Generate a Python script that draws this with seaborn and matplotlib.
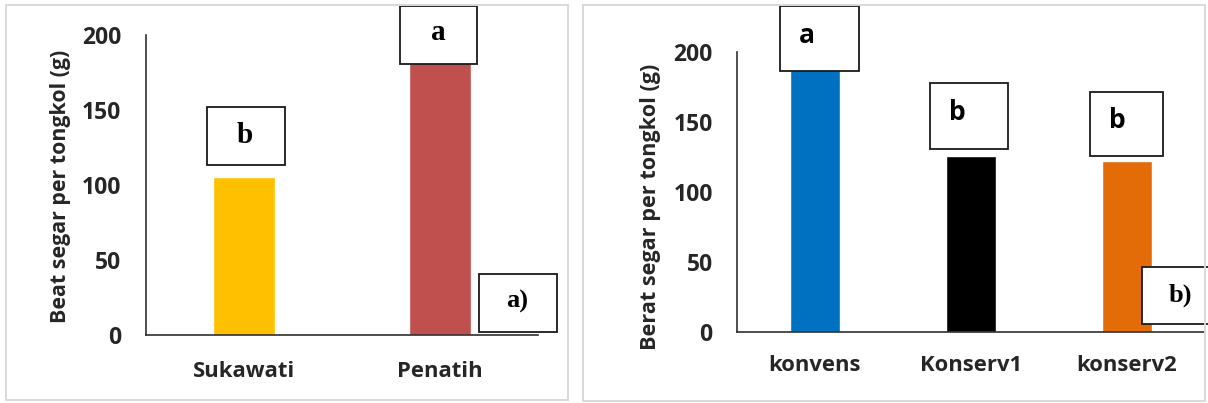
import matplotlib
matplotlib.use("Agg")
import matplotlib.pyplot as plt
from matplotlib.patches import Rectangle
import seaborn as sns

# Fresh cob weight per location
sites = ["Sukawati", "Penatih"]
site_weight = [105, 185]
site_letters = ["b", "a"]
site_colors = ["#FFC000", "#C0504D"]

# Fresh cob weight per cultivation system
systems = ["konvens", "Konserv1", "konserv2"]
system_weight = [190, 126, 122]
system_letters = ["a", "b", "b"]
system_colors = ["#0070C0", "#000000", "#E36C09"]

y_ticks = [0, 50, 100, 150, 200]

sns.set_style("white")
plt.rcParams["font.family"] = ["Open Sans", "DejaVu Sans"]
plt.rcParams["font.weight"] = "bold"

W, H = 1208, 403
fig = plt.figure(figsize=(W / 100, H / 100), dpi=100)


def fig_rect(x0, y0, x1, y1):
    """Rectangle in figure pixels measured from the top-left corner."""
    return [x0 / W, 1 - y1 / H, (x1 - x0) / W, (y1 - y0) / H]


# light grey frames around the two panels
for x0, y0, x1, y1 in [(6, 5, 568, 400), (583, 5, 1205, 401)]:
    l, b, w, h = fig_rect(x0, y0, x1, y1)
    fig.patches.append(Rectangle((l, b), w, h, transform=fig.transFigure,
                                 fill=False, edgecolor="#d9d9d9", linewidth=1.4,
                                 zorder=0))

ax1 = fig.add_axes(fig_rect(146, 34.5, 538, 335))
ax2 = fig.add_axes(fig_rect(737, 52.3, 1205, 331.7))

sns.barplot(x=sites, y=site_weight, hue=sites, palette=site_colors,
            saturation=1, width=0.315, legend=False, ax=ax1, zorder=2)
sns.barplot(x=systems, y=system_weight, hue=systems, palette=system_colors,
            saturation=1, width=0.32, legend=False, ax=ax2, zorder=2)


def style_axis(ax, ncat, ylabel, label_xy, xpad, ypad, label_size):
    ax.set_xlim(-0.5, ncat - 0.5)
    ax.set_ylim(0, 200)
    ax.set_yticks(y_ticks)
    ax.set_facecolor("none")
    for side in ["top", "right"]:
        ax.spines[side].set_visible(False)
    for side in ["left", "bottom"]:
        ax.spines[side].set_color("#303030")
        ax.spines[side].set_linewidth(1.2)
    ax.tick_params(axis="y", direction="in", length=6, width=1.2,
                   color="#303030", pad=ypad, labelsize=16.5)
    ax.tick_params(axis="x", length=0, pad=xpad, labelsize=15.8)
    for lab in ax.get_xticklabels() + ax.get_yticklabels():
        lab.set_fontweight("bold")
    ax.set_ylabel(ylabel, fontsize=label_size, fontweight="bold")
    ax.yaxis.set_label_coords(*label_xy)
    ax.yaxis.label.set_verticalalignment("center")
    ax.set_xlabel("")


style_axis(ax1, len(sites), "Beat segar per tongkol (g)", (-0.219, 0.496), 18.5, 18, 15.4)
style_axis(ax2, len(systems), "Berat segar per tongkol (g)", (-0.184, 0.446), 16.5, 17.5, 15.6)


def letter_box(ax, x0, x1, y0, y1, text, tx, ty, family, size):
    ax.add_patch(Rectangle((x0, y0), x1 - x0, y1 - y0, facecolor="white",
                           edgecolor="#1a1a1a", linewidth=1.3, clip_on=False,
                           zorder=5))
    ax.text(tx, ty, text, ha="center", va="center", fontsize=size,
            fontweight="bold", family=family, color="black", zorder=6,
            clip_on=False)


serif = ["Liberation Serif", "DejaVu Serif"]
sans = ["Open Sans", "DejaVu Sans"]

# significance letters above each bar
letter_box(ax1, -0.19, 0.21, 113, 152, site_letters[0], 0.005, 133, serif, 21)
letter_box(ax1, 0.796, 1.189, 180.4, 219, site_letters[1], 0.99, 201, serif, 21)
letter_box(ax1, 1.199, 1.597, 2, 40.6, "a)", 1.393, 22, serif, 19)

letter_box(ax2, -0.222, 0.281, 186.6, 233.4, system_letters[0], -0.049, 212, sans, 19)
letter_box(ax2, 0.739, 1.239, 130.6, 177.8, system_letters[1], 0.912, 157, sans, 19)
letter_box(ax2, 1.765, 2.233, 125.8, 171.8, system_letters[2], 1.938, 151, sans, 19)
letter_box(ax2, 2.096, 2.539, 5.5, 46.5, "b)", 2.342, 26.3, serif, 19)

fig.savefig("out.png", dpi=100)
